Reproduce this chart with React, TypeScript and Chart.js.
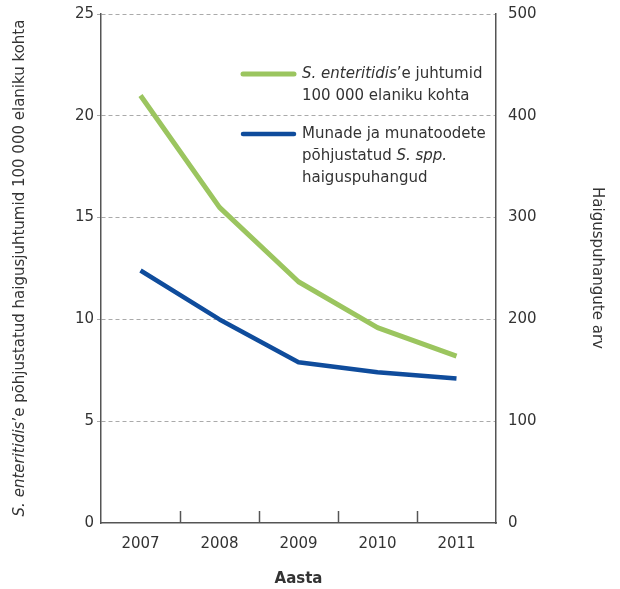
import React, { useEffect, useRef } from 'react';
import { Chart, registerables } from 'chart.js';

Chart.register(...registerables);

const years = ['2007', '2008', '2009', '2010', '2011'];
const enteritidisRate = [21.0, 15.5, 11.85, 9.6, 8.2];
const outbreakCount = [248, 200, 158, 148, 142];

const leftTitle = [
  { t: 'S. enteritidis', i: true },
  { t: '’e põhjustatud haigusjuhtumid 100 000 elaniku kohta' },
];
const rightTitle = [{ t: 'Haiguspuhangute arv' }];
const xTitle = [{ t: 'Aasta', b: true }];
const greenLegend = [
  [{ t: 'S. enteritidis', i: true }, { t: '’e juhtumid' }],
  [{ t: '100 000 elaniku kohta' }],
];
const blueLegend = [
  [{ t: 'Munade ja munatoodete' }],
  [{ t: 'põhjustatud ' }, { t: 'S. spp.', i: true }],
  [{ t: 'haiguspuhangud' }],
];

const FONT = '"DejaVu Sans", sans-serif';
const TEXT = '#333333';
const GREEN = '#9bc55f';
const BLUE = '#0f4c9c';
const AXIS = '#555555';

type Seg = { t: string; i?: boolean; b?: boolean };

function segFont(s: Seg, size: number) {
  return `${s.i ? 'italic ' : ''}${s.b ? 'bold ' : ''}${size}px ${FONT}`;
}
function richWidth(ctx: CanvasRenderingContext2D, segs: Seg[], size: number) {
  let w = 0;
  for (const s of segs) {
    ctx.font = segFont(s, size);
    w += ctx.measureText(s.t).width;
  }
  return w;
}
function drawRich(ctx: CanvasRenderingContext2D, segs: Seg[], x: number, y: number, size: number) {
  let cx = x;
  for (const s of segs) {
    ctx.font = segFont(s, size);
    ctx.fillText(s.t, cx, y);
    cx += ctx.measureText(s.t).width;
  }
}

const decorPlugin = {
  id: 'decor',
  afterDraw(chart: any) {
    const ctx: CanvasRenderingContext2D = chart.ctx;
    const area = chart.chartArea;
    const xs = chart.scales.x;
    ctx.save();
    // inner category separators
    ctx.strokeStyle = AXIS;
    ctx.lineWidth = 1.5;
    for (let i = 0; i < years.length - 1; i++) {
      const px = Math.round((xs.getPixelForTick(i) + xs.getPixelForTick(i + 1)) / 2) + 0.5;
      ctx.beginPath();
      ctx.moveTo(px, area.bottom);
      ctx.lineTo(px, area.bottom - 12);
      ctx.stroke();
    }
    ctx.fillStyle = TEXT;
    ctx.textBaseline = 'middle';
    // left title
    const lw = richWidth(ctx, leftTitle, 15);
    ctx.save();
    ctx.translate(20, 268);
    ctx.rotate(-Math.PI / 2);
    drawRich(ctx, leftTitle, -lw / 2, 0, 15);
    ctx.restore();
    // right title
    const rw = richWidth(ctx, rightTitle, 15);
    ctx.save();
    ctx.translate(597, 268);
    ctx.rotate(Math.PI / 2);
    drawRich(ctx, rightTitle, -rw / 2, 0, 15);
    ctx.restore();
    // x title
    const xw = richWidth(ctx, xTitle, 15);
    drawRich(ctx, xTitle, (area.left + area.right) / 2 - xw / 2, 579, 15);
    // legend
    const lx0 = 243, lx1 = 294, tx = 302, lh = 22;
    const drawEntry = (color: string, width: number, lines: Seg[][], y: number) => {
      ctx.strokeStyle = color;
      ctx.lineWidth = width;
      ctx.lineCap = 'round';
      ctx.beginPath();
      ctx.moveTo(lx0, y);
      ctx.lineTo(lx1, y);
      ctx.stroke();
      ctx.fillStyle = TEXT;
      lines.forEach((ln, k) => drawRich(ctx, ln, tx, y + k * lh, 15));
    };
    drawEntry(GREEN, 5, greenLegend, 74);
    drawEntry(BLUE, 4.5, blueLegend, 134);
    ctx.restore();
  },
};

export default function App() {
  const ref = useRef<HTMLCanvasElement>(null);
  useEffect(() => {
    document.body.style.margin = '0';
    const chart = new Chart(ref.current!, {
      type: 'line',
      data: {
        labels: years,
        datasets: [
          {
            label: 'S. enteritidis',
            data: enteritidisRate,
            yAxisID: 'y',
            borderColor: GREEN,
            borderWidth: 5,
            pointRadius: 0,
            tension: 0,
            borderCapStyle: 'butt',
            borderJoinStyle: 'round',
          },
          {
            label: 'Haiguspuhangud',
            data: outbreakCount,
            yAxisID: 'y1',
            borderColor: BLUE,
            borderWidth: 4.5,
            pointRadius: 0,
            tension: 0,
            borderCapStyle: 'butt',
            borderJoinStyle: 'round',
          },
        ],
      },
      options: {
        responsive: false,
        animation: false,
        devicePixelRatio: 1,
        layout: { padding: { top: 14, left: 0, right: 0, bottom: 0 } },
        plugins: { legend: { display: false }, tooltip: { enabled: false } },
        scales: {
          x: {
            offset: true,
            grid: { display: false, drawTicks: false },
            border: { display: true, color: AXIS, width: 1.5 },
            ticks: { padding: 12, color: TEXT, font: { family: FONT, size: 15 } },
            afterFit: (s: any) => { s.height = 66; s.paddingLeft = 0; s.paddingRight = 0; },
          },
          y: {
            position: 'left',
            min: 0,
            max: 25,
            ticks: { stepSize: 5, padding: 3, color: TEXT, font: { family: FONT, size: 15 } },
            grid: {
              color: (c: any) => (c.tick && c.tick.value === 0 ? 'rgba(0,0,0,0)' : '#aaaaaa'),
              lineWidth: 1,
              drawTicks: true,
              tickLength: 4,
              tickBorderDash: [],
            },
            border: { display: true, color: AXIS, width: 1.5, dash: [4, 3] },
            afterFit: (s: any) => { s.width = 101; s.paddingTop = 0; s.paddingBottom = 0; },
          },
          y1: {
            position: 'right',
            min: 0,
            max: 500,
            ticks: { stepSize: 100, padding: 12, color: TEXT, font: { family: FONT, size: 15 } },
            grid: { display: false, drawTicks: false, drawOnChartArea: false },
            border: { display: true, color: AXIS, width: 1.5 },
            afterFit: (s: any) => { s.width = 124; s.paddingTop = 0; s.paddingBottom = 0; },
          },
        },
      },
      plugins: [decorPlugin],
    } as any);
    return () => chart.destroy();
  }, []);
  return (
    <div style={{ width: 620, height: 589 }}>
      <canvas ref={ref} width={620} height={589} />
    </div>
  );
}
